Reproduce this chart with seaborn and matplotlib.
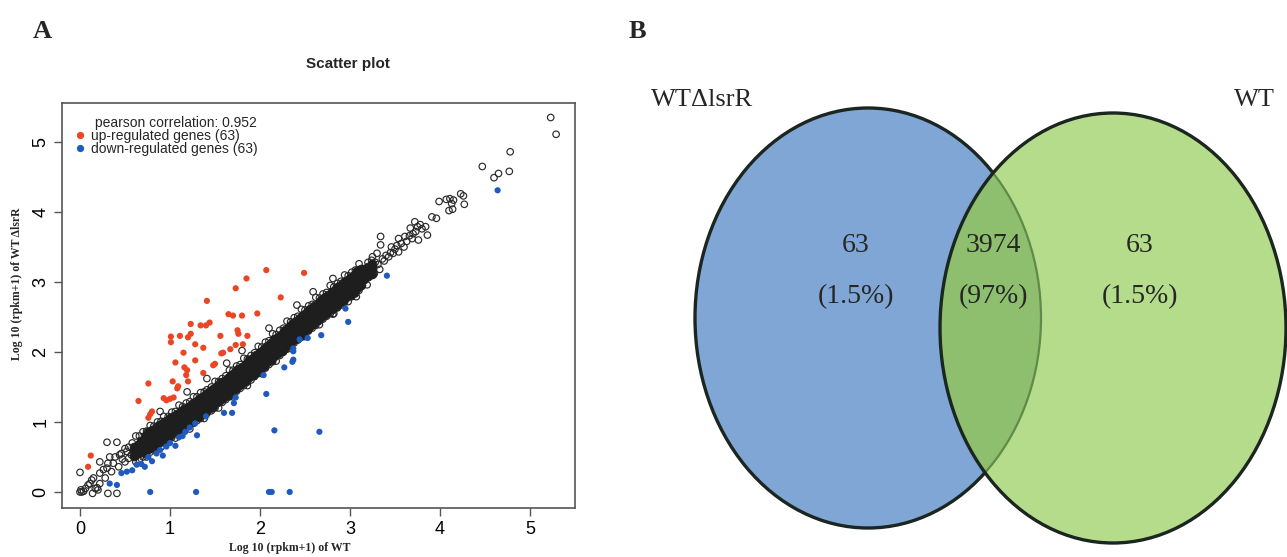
import numpy as np
import pandas as pd
import matplotlib.pyplot as plt
from matplotlib.lines import Line2D
from matplotlib.patches import Ellipse
import seaborn as sns

W, H = 1287, 557

RED = "#eb4623"
BLUE = "#1f5bbf"
INK = "#1e1e1e"
V_BLUE = "#80a6d6"
V_GREEN = "#b4dc8b"
V_OVER = "#8dbf6f"

# ---------------- panel A : values ----------------
# dense diagonal band (three rows: centre, upper edge, lower edge)
core_x = [0.60, 0.64, 0.68, 0.72, 0.76, 0.80, 0.84, 0.88, 0.92, 0.96,
          1.00, 1.04, 1.08, 1.12, 1.16, 1.20, 1.24, 1.28, 1.32, 1.36,
          1.40, 1.44, 1.48, 1.52, 1.56, 1.60, 1.64, 1.68, 1.72, 1.76,
          1.80, 1.84, 1.88, 1.92, 1.96, 2.00, 2.04, 2.08, 2.12, 2.16,
          2.20, 2.24, 2.28, 2.32, 2.36, 2.40, 2.44, 2.48, 2.52, 2.56,
          2.60, 2.64, 2.68, 2.72, 2.76, 2.80, 2.84, 2.88, 2.92, 2.96,
          3.00, 3.04, 3.08, 3.12, 3.16, 3.20, 3.24]
core_mid = [0.58, 0.61, 0.66, 0.68, 0.73, 0.76, 0.79, 0.83, 0.86, 0.90,
            0.93, 0.97, 1.00, 1.04, 1.07, 1.10, 1.14, 1.17, 1.21, 1.24,
            1.28, 1.32, 1.35, 1.40, 1.43, 1.47, 1.51, 1.55, 1.59, 1.63,
            1.67, 1.71, 1.76, 1.79, 1.84, 1.88, 1.92, 1.97, 2.01, 2.06,
            2.10, 2.14, 2.19, 2.23, 2.28, 2.32, 2.36, 2.41, 2.45, 2.49,
            2.53, 2.57, 2.62, 2.66, 2.70, 2.74, 2.78, 2.82, 2.86, 2.90,
            2.94, 2.98, 3.03, 3.07, 3.11, 3.15, 3.19]
core_hi = [0.64, 0.67, 0.73, 0.80, 0.85, 0.88, 0.91, 0.95, 0.98, 1.02,
           1.05, 1.09, 1.12, 1.16, 1.19, 1.22, 1.26, 1.29, 1.33, 1.36,
           1.40, 1.44, 1.47, 1.52, 1.55, 1.59, 1.63, 1.67, 1.71, 1.75,
           1.79, 1.83, 1.88, 1.91, 1.96, 2.00, 2.04, 2.09, 2.13, 2.18,
           2.22, 2.26, 2.31, 2.35, 2.40, 2.44, 2.48, 2.53, 2.57, 2.61,
           2.65, 2.69, 2.74, 2.78, 2.82, 2.86, 2.90, 2.94, 2.98, 3.02,
           3.06, 3.10, 3.15, 3.19, 3.18, 3.22, 3.26]
core_lo = [0.52, 0.55, 0.59, 0.56, 0.61, 0.64, 0.67, 0.71, 0.74, 0.78,
           0.81, 0.85, 0.88, 0.92, 0.95, 0.98, 1.02, 1.05, 1.09, 1.12,
           1.16, 1.20, 1.23, 1.28, 1.31, 1.35, 1.39, 1.43, 1.47, 1.51,
           1.55, 1.59, 1.64, 1.67, 1.72, 1.76, 1.80, 1.85, 1.89, 1.94,
           1.98, 2.02, 2.07, 2.11, 2.16, 2.20, 2.24, 2.29, 2.33, 2.37,
           2.41, 2.45, 2.50, 2.54, 2.58, 2.62, 2.66, 2.70, 2.74, 2.78,
           2.82, 2.86, 2.91, 2.95, 3.04, 3.08, 3.12]

# open circles sitting on the edges of the band
edge_x = [0.62, 0.70, 0.78, 0.86, 0.93, 1.02, 1.10, 1.18, 1.26, 1.34,
          1.41, 1.50, 1.58, 1.66, 1.74, 1.82, 1.90, 1.98, 2.06, 2.14,
          2.22, 2.30, 2.38, 2.46, 2.54, 2.62, 2.70, 2.78, 2.86, 2.94,
          3.02, 3.10,
          0.66, 0.74, 0.82, 0.90, 0.98, 1.06, 1.14, 1.22, 1.30, 1.38,
          1.46, 1.54, 1.62, 1.70, 1.78, 1.86, 1.94, 2.02, 2.10, 2.18,
          2.26, 2.34, 2.42, 2.50, 2.58, 2.66, 2.74, 2.82, 2.90, 2.98,
          3.06,
          0.66, 0.74, 0.82, 0.90, 0.98, 1.06, 1.14, 1.22, 1.30, 1.38,
          1.46, 1.54, 1.62, 1.70, 1.78, 1.86, 1.94, 2.02, 2.10, 2.18,
          2.26, 2.34, 2.42, 2.50, 2.58, 2.66, 2.74, 2.82, 2.90, 2.98,
          3.06,
          0.62, 0.70, 0.78, 0.86, 0.93, 1.02, 1.10, 1.18, 1.26, 1.34,
          1.41, 1.50, 1.58, 1.66, 1.74, 1.82, 1.90, 1.98, 2.06, 2.14,
          2.22, 2.30, 2.38, 2.46, 2.54, 2.62, 2.70, 2.78, 2.86, 2.94,
          3.02, 3.10]
edge_y = [0.80, 0.86, 0.95, 1.00, 1.08, 1.14, 1.24, 1.27, 1.36, 1.42,
          1.46, 1.58, 1.62, 1.74, 1.80, 1.91, 1.95, 2.08, 2.14, 2.26,
          2.31, 2.44, 2.49, 2.61, 2.66, 2.78, 2.83, 2.95, 2.98, 3.10,
          3.14, 3.26,
          0.45, 0.50, 0.60, 0.64, 0.74, 0.77, 0.88, 0.90, 1.02, 1.05,
          1.16, 1.20, 1.32, 1.36, 1.48, 1.52, 1.65, 1.69, 1.82, 1.87,
          2.00, 2.05, 2.17, 2.22, 2.34, 2.39, 2.51, 2.55, 2.67, 2.72,
          2.83,
          0.80, 0.87, 0.94, 1.01, 1.08, 1.15, 1.22, 1.29, 1.36, 1.43,
          1.50, 1.58, 1.66, 1.74, 1.82, 1.90, 1.99, 2.07, 2.16, 2.25,
          2.34, 2.43, 2.51, 2.60, 2.68, 2.77, 2.85, 2.93, 3.01, 3.09,
          3.17,
          0.43, 0.50, 0.57, 0.64, 0.70, 0.78, 0.85, 0.92, 0.98, 1.05,
          1.12, 1.20, 1.28, 1.36, 1.44, 1.52, 1.60, 1.69, 1.77, 1.86,
          1.95, 2.04, 2.13, 2.21, 2.30, 2.38, 2.47, 2.55, 2.63, 2.71,
          2.79, 2.88]

# single open circles away from the band
open_x = [0.00, 0.02, 0.04, 0.01, 0.00, 0.30, 0.41, 0.14, 0.31, 0.41,
          0.09, 0.19, 0.15, 0.22, 0.30, 0.22, 0.37, 0.33, 0.44, 0.52,
          0.13, 0.31, 0.39, 0.46, 0.54, 0.17, 0.22, 0.28, 0.35, 0.43,
          0.50, 0.54, 0.06, 0.20, 0.11, 0.26, 0.47, 0.57, 0.58, 0.50,
          2.81, 3.19, 3.07, 1.41, 1.19, 0.89, 2.41, 2.81, 1.63, 2.59,
          1.80, 2.10,
          3.22, 3.26, 3.28, 3.31, 3.36, 3.38, 3.40, 3.43, 3.27, 3.33,
          3.20, 3.24, 3.45, 3.50, 3.52, 3.57, 3.63, 3.66, 3.70, 3.69,
          3.80, 3.78, 3.25, 3.30, 3.34, 3.34, 3.48, 3.46, 3.54, 3.60,
          3.54, 3.61, 3.76, 3.73, 3.67, 3.72, 3.75, 3.86, 3.84, 3.91,
          3.96, 3.99, 4.07, 4.11, 4.15, 4.23, 4.26, 4.10, 4.14, 4.27,
          4.13, 4.47, 4.60, 4.65, 4.77, 4.78, 5.23, 5.29]
open_y = [0.00, 0.00, 0.01, 0.03, 0.28, 0.71, 0.71, -0.02, -0.02, -0.02,
          0.10, 0.06, 0.20, 0.27, 0.34, 0.43, 0.41, 0.50, 0.53, 0.58,
          0.17, 0.41, 0.50, 0.55, 0.64, 0.05, 0.12, 0.20, 0.29, 0.36,
          0.43, 0.48, 0.05, 0.03, 0.12, 0.32, 0.47, 0.53, 0.70, 0.62,
          2.54, 2.96, 2.79, 1.62, 1.43, 1.15, 2.67, 3.05, 1.84, 2.86,
          2.02, 2.34,
          3.22, 3.20, 3.28, 3.25, 3.33, 3.30, 3.38, 3.36, 3.12, 3.18,
          3.28, 3.31, 3.42, 3.47, 3.52, 3.55, 3.58, 3.66, 3.69, 3.62,
          3.76, 3.82, 3.36, 3.41, 3.53, 3.65, 3.41, 3.50, 3.43, 3.50,
          3.62, 3.65, 3.60, 3.72, 3.77, 3.86, 3.79, 3.67, 3.79, 3.93,
          3.91, 4.15, 4.18, 4.19, 4.17, 4.26, 4.23, 4.02, 4.04, 4.11,
          4.12, 4.65, 4.49, 4.55, 4.58, 4.86, 5.35, 5.11]

up_x = [2.07, 2.49, 1.85, 1.73, 2.23, 1.41, 1.65, 1.70, 1.80, 1.97,
        1.23, 1.34, 1.40, 1.44, 1.01, 1.11, 1.20, 1.23, 1.56, 1.75,
        1.76, 1.86, 1.01, 1.28, 1.15, 1.37, 1.57, 1.59, 1.67, 1.73,
        1.81, 1.06, 1.28, 1.16, 1.19, 1.18, 1.20, 1.37, 1.48, 1.50,
        0.76, 1.03, 1.08, 1.09, 0.65, 0.93, 0.96, 1.00, 1.04, 0.80,
        0.76, 0.78, 0.12, 0.09]
up_y = [3.17, 3.13, 3.05, 2.91, 2.78, 2.73, 2.54, 2.52, 2.52, 2.55,
        2.40, 2.38, 2.38, 2.42, 2.22, 2.23, 2.21, 2.26, 2.23, 2.31,
        2.26, 2.23, 2.14, 2.11, 1.99, 2.06, 1.98, 1.99, 2.04, 2.10,
        2.11, 1.85, 1.88, 1.78, 1.74, 1.67, 1.58, 1.70, 1.81, 1.83,
        1.55, 1.58, 1.48, 1.51, 1.30, 1.34, 1.31, 1.33, 1.35, 1.15,
        1.06, 1.11, 0.52, 0.36]

down_x = [4.64, 3.41, 2.95, 2.98, 2.68, 2.53, 2.44, 2.37, 2.37, 2.37,
          2.36, 2.27, 2.04, 2.07, 1.73, 1.71, 1.69, 1.60, 2.16, 2.66,
          1.40, 1.28, 1.30, 1.17, 1.14, 1.00, 0.96, 0.89, 0.85, 0.76,
          0.72, 0.63, 0.52, 0.46, 0.33, 0.41, 0.78, 1.29, 2.10, 2.13,
          2.33, 0.80, 0.68, 0.58, 1.10, 1.22, 0.92, 1.06]
down_y = [4.31, 3.09, 2.62, 2.43, 2.24, 2.20, 2.18, 2.05, 2.01, 1.89,
          1.86, 1.78, 1.67, 1.40, 1.35, 1.27, 1.13, 1.13, 0.88, 0.86,
          1.08, 0.98, 0.81, 0.86, 0.80, 0.70, 0.65, 0.60, 0.55, 0.50,
          0.36, 0.39, 0.29, 0.27, 0.12, 0.10, 0.00, 0.00, 0.00, 0.00,
          0.00, 0.44, 0.40, 0.31, 0.78, 0.92, 0.52, 0.66]

pearson_r = 0.952
n_up, n_down = 63, 63
axis_ticks = [0, 1, 2, 3, 4, 5]

# ---------------- panel B : Venn numbers ----------------
set_names = ["WT\u0394lsrR", "WT"]
venn_counts = [63, 3974, 63]
venn_pct = ["1.5%", "97%", "1.5%"]

sns.set_style("ticks")
plt.rcParams.update({
    "font.family": ["Liberation Sans", "DejaVu Sans"],
    "axes.edgecolor": "#555555",
    "axes.linewidth": 1.2,
    "xtick.color": "#555555",
    "ytick.color": "#555555",
    "xtick.labelcolor": "black",
    "ytick.labelcolor": "black",
})
SERIF = ["Liberation Serif", "DejaVu Serif"]


def box(l, t, r, b):
    return [l / W, 1 - b / H, (r - l) / W, (b - t) / H]


fig = plt.figure(figsize=(W / 100, H / 100), dpi=100)

# ---------------- scatter ----------------
ax = fig.add_axes(box(62, 103, 575, 508))

core = pd.DataFrame({"x": core_x * 3, "y": core_mid + core_hi + core_lo})
sns.scatterplot(data=core, x="x", y="y", color=INK, edgecolor=INK,
                s=40, linewidth=0.6, ax=ax, legend=False, zorder=3)
sns.scatterplot(x=edge_x, y=edge_y, color="none", edgecolor="#2a2a2a",
                s=22, linewidth=0.85, ax=ax, legend=False, zorder=2)
sns.scatterplot(x=open_x, y=open_y, color="none", edgecolor="#2a2a2a",
                s=22, linewidth=0.85, ax=ax, legend=False, zorder=2)
sns.scatterplot(x=up_x, y=up_y, color=RED, edgecolor="none",
                s=20, ax=ax, legend=False, zorder=4)
sns.scatterplot(x=down_x, y=down_y, color=BLUE, edgecolor="none",
                s=20, ax=ax, legend=False, zorder=4)

ax.set_xlim(-0.2, 5.5)
ax.set_ylim(-0.229, 5.557)
ax.set_xticks(axis_ticks)
ax.set_yticks(axis_ticks)
ax.set_xticklabels([str(t) for t in axis_ticks])
ax.set_yticklabels([str(t) for t in axis_ticks], rotation=90, va="center")
ax.tick_params(length=6, width=1.0, labelsize=13, pad=3)
ax.set_xlabel("")
ax.set_ylabel("")
for sp in ax.spines.values():
    sp.set_visible(True)

ax.text((95 - 62) / 513, (508 - 123) / 405, f"pearson correlation: {pearson_r}",
        transform=ax.transAxes, fontsize=10, va="center", ha="left")
handles = [Line2D([], [], ls="", marker="o", color=RED, ms=4.2),
           Line2D([], [], ls="", marker="o", color=BLUE, ms=4.2)]
ax.legend(handles, [f"up-regulated genes ({n_up})", f"down-regulated genes ({n_down})"],
          loc="upper left", bbox_to_anchor=((74 - 62) / 513, (508 - 129) / 405),
          frameon=False, fontsize=10, handlelength=0.8, handletextpad=0.4,
          borderpad=0, borderaxespad=0, labelspacing=-0.05)

fig.text(348 / W, 1 - 64 / H, "Scatter plot", ha="center", va="center",
         fontsize=11, fontweight="bold")
fig.text(290 / W, 1 - 548 / H, "Log 10 (rpkm+1) of WT", ha="center", va="center",
         fontsize=8.5, fontweight="bold", family=SERIF)
fig.text(17 / W, 1 - 284 / H, "Log 10 (rpkm+1) of WT \u0394lsrR", ha="center",
         va="center", rotation=90, fontsize=8.5, fontweight="bold", family=SERIF)
fig.text(42 / W, 1 - 31 / H, "A", ha="center", va="center", fontsize=19,
         fontweight="bold", family=SERIF)
fig.text(637 / W, 1 - 31 / H, "B", ha="center", va="center", fontsize=19,
         fontweight="bold", family=SERIF)

# ---------------- venn ----------------
vx = fig.add_axes(box(620, 0, 1287, 557))
vx.set_xlim(620, 1287)
vx.set_ylim(557, 0)
vx.axis("off")

left_c, left_wh = (868, 318), (346, 420)
right_c, right_wh = (1113, 328), (346, 430)
EDGE = "#1b2620"

vx.add_patch(Ellipse(left_c, *left_wh, fc=V_BLUE, ec=EDGE, lw=2.4, zorder=1))
green = Ellipse(right_c, *right_wh, fc=V_GREEN, ec="none", zorder=2)
vx.add_patch(green)
over = Ellipse(left_c, *left_wh, fc=V_OVER, ec="none", zorder=3)
vx.add_patch(over)
over.set_clip_path(green)
inner = Ellipse(left_c, *left_wh, fc="none", ec="#5f8a4a", lw=1.6, zorder=4)
vx.add_patch(inner)
inner.set_clip_path(green)
vx.add_patch(Ellipse(right_c, *right_wh, fc="none", ec=EDGE, lw=2.4, zorder=5))

vx.text(702, 100, set_names[0], ha="center", va="center", fontsize=19, family=SERIF)
vx.text(1254, 100, set_names[1], ha="center", va="center", fontsize=19, family=SERIF)

region_x = [856, 993, 1140]
for xx, cnt, pct in zip(region_x, venn_counts, venn_pct):
    vx.text(xx, 245, str(cnt), ha="center", va="center", fontsize=20, family=SERIF, zorder=6)
    vx.text(xx, 297, f"({pct})", ha="center", va="center", fontsize=20, family=SERIF, zorder=6)

fig.savefig("out.png", dpi=100)
